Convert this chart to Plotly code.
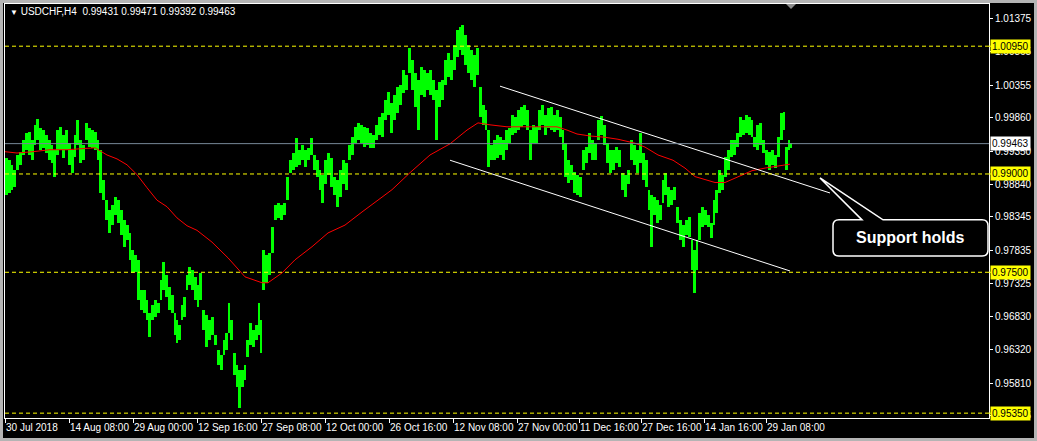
import numpy as np
import plotly.graph_objects as go

# ---------------- data ----------------
symbol_title = "USDCHF,H4"
last_ohlc = ["0.99431", "0.99471", "0.99392", "0.99463"]

bar_idx = [0,3,6,8,11,14,17,20,23,26,
           29,31,34,37,40,43,46,48,51,54,
           57,60,63,66,69,71,74,77,80,83,
           86,89,92,94,97,100,103,106,109,112,
           115,118,121,124,126,129,132,135,138,141,
           143,146,149,152,155,157,160,163,166,169,
           171,173,176,178,181,183,186,189,192,194,
           197,200,203,206,209,212,215,218,220,223,
           225,228,231,233,236,239,241,244,247,250,
           253,255,257,260,263,266,269,272,275,278,
           281,284,287,290,293,296,299,302,305,308,
           311,314,316,319,322,325,328,331,334,337,
           340,343,346,349,352,355,358,361,364,367,
           370,373,376,379,382,385,388,391,394,397,
           400,403,406,409,412,415,418,421,424,427,
           430,433,436,439,442,445,448,451,454,456,
           459,462,465,468,471,474,477,480,482,485,
           488,491,494,497,500,503,506,509,512,515,
           518,521,524,527,530,533,536,539,542,545,
           548,551,554,557,559,562,565,568,571,574,
           577,580,583,586,589,592,595,598,601,604,
           607,610,613,616,619,622,625,628,631,634,
           637,640,643,645,648,651,654,657,659,662,
           665,668,671,674,677,680,683,686,688,691,
           693,696,699,702,705,708,710,713,716,719,
           722,725,728,731,734,737,740,743,746,748,
           751,754,757,760,763,766,769,772,775,778,
           780,783,785]

bar_high = [0.9924,0.9921,0.9914,0.9906,0.9929,0.9934,0.9952,0.9963,0.9964,0.9952,
            0.9975,0.9984,0.9970,0.9967,0.9960,0.9952,0.9944,0.9937,0.9967,0.9972,
            0.9960,0.9967,0.9947,0.9937,0.9960,0.9982,0.9952,0.9944,0.9978,0.9970,
            0.9967,0.9964,0.9952,0.9937,0.9891,0.9860,0.9845,0.9853,0.9865,0.9860,
            0.9845,0.9830,0.9822,0.9810,0.9784,0.9776,0.9769,0.9723,0.9723,0.9708,
            0.9688,0.9700,0.9708,0.9703,0.9738,0.9766,0.9746,0.9728,0.9715,0.9688,
            0.9677,0.9670,0.9700,0.9712,0.9746,0.9758,0.9753,0.9743,0.9731,0.9749,
            0.9692,0.9685,0.9677,0.9682,0.9654,0.9631,0.9624,0.9647,0.9657,0.9703,
            0.9677,0.9627,0.9608,0.9601,0.9601,0.9608,0.9647,0.9673,0.9662,0.9670,
            0.9703,0.9677,0.9784,0.9776,0.9779,0.9819,0.9853,0.9856,0.9853,0.9856,
            0.9896,0.9921,0.9932,0.9955,0.9937,0.9944,0.9937,0.9940,0.9955,0.9929,
            0.9921,0.9906,0.9899,0.9921,0.9932,0.9924,0.9896,0.9891,0.9906,0.9921,
            0.9917,0.9944,0.9956,0.9972,0.9978,0.9975,0.9972,0.9970,0.9963,0.9960,
            0.9975,0.9987,0.9993,1.0013,1.0025,1.0008,1.0021,1.0033,1.0036,1.0059,
            1.0051,1.0092,1.0074,1.0054,1.0043,1.0063,1.0059,1.0054,1.0059,1.0043,
            1.0028,1.0040,1.0043,1.0074,1.0085,1.0074,1.0097,1.0120,1.0124,1.0127,
            1.0112,1.0097,1.0089,1.0082,1.0092,1.0033,1.0005,0.9998,0.9967,0.9944,
            0.9952,0.9960,0.9956,0.9952,0.9967,0.9970,0.9990,0.9987,0.9998,1.0002,
            1.0005,0.9998,0.9967,0.9975,0.9972,0.9998,1.0005,0.9990,1.0001,1.0002,
            0.9990,0.9998,0.9987,0.9967,0.9947,0.9921,0.9914,0.9903,0.9899,0.9896,
            0.9937,0.9941,0.9963,0.9952,0.9947,0.9982,0.9988,0.9975,0.9947,0.9937,
            0.9937,0.9941,0.9937,0.9902,0.9899,0.9906,0.9952,0.9944,0.9937,0.9963,
            0.9932,0.9921,0.9876,0.9868,0.9865,0.9860,0.9853,0.9891,0.9902,0.9880,
            0.9876,0.9880,0.9850,0.9830,0.9822,0.9830,0.9834,0.9799,0.9784,0.9799,
            0.9840,0.9850,0.9845,0.9837,0.9825,0.9860,0.9876,0.9906,0.9899,0.9926,
            0.9937,0.9952,0.9952,0.9963,0.9987,0.9982,0.9990,0.9987,0.9982,0.9956,
            0.9975,0.9978,0.9952,0.9937,0.9934,0.9937,0.9929,0.9956,0.9993,0.9995,
            0.9941,0.9952,0.99471]

bar_low = [0.9868,0.9871,0.9876,0.9880,0.9906,0.9914,0.9929,0.9937,0.9929,0.9921,
           0.9944,0.9952,0.9937,0.9940,0.9932,0.9921,0.9917,0.9896,0.9929,0.9937,
           0.9924,0.9937,0.9914,0.9902,0.9926,0.9944,0.9917,0.9921,0.9952,0.9941,
           0.9940,0.9937,0.9921,0.9871,0.9860,0.9830,0.9810,0.9822,0.9837,0.9825,
           0.9807,0.9789,0.9799,0.9769,0.9749,0.9750,0.9708,0.9692,0.9688,0.9677,
           0.9651,0.9677,0.9682,0.9688,0.9708,0.9723,0.9712,0.9692,0.9688,0.9654,
           0.9642,0.9647,0.9677,0.9682,0.9723,0.9731,0.9723,0.9708,0.9697,0.9708,
           0.9662,0.9636,0.9647,0.9654,0.9639,0.9608,0.9601,0.9624,0.9631,0.9657,
           0.9647,0.9593,0.9575,0.9543,0.9575,0.9586,0.9621,0.9639,0.9636,0.9647,
           0.9654,0.9627,0.9723,0.9734,0.9746,0.9779,0.9830,0.9833,0.9830,0.9837,
           0.9860,0.9902,0.9906,0.9911,0.9914,0.9921,0.9911,0.9921,0.9929,0.9906,
           0.9896,0.9876,0.9856,0.9884,0.9899,0.9880,0.9868,0.9850,0.9865,0.9884,
           0.9876,0.9921,0.9929,0.9947,0.9952,0.9947,0.9941,0.9944,0.9940,0.9940,
           0.9952,0.9960,0.9956,0.9982,0.9990,0.9963,0.9982,0.9993,1.0005,1.0024,
           1.0028,1.0054,1.0028,1.0002,0.9967,1.0021,1.0017,1.0028,1.0021,1.0013,
           0.9952,1.0002,1.0013,1.0036,1.0048,1.0043,1.0059,1.0078,1.0089,1.0082,
           1.0066,1.0054,1.0043,1.0033,1.0051,0.9987,0.9975,0.9967,0.9911,0.9921,
           0.9921,0.9924,0.9929,0.9921,0.9937,0.9947,0.9960,0.9963,0.9967,0.9972,
           0.9975,0.9967,0.9921,0.9947,0.9947,0.9967,0.9975,0.9960,0.9970,0.9967,
           0.9964,0.9967,0.9956,0.9937,0.9896,0.9887,0.9891,0.9871,0.9868,0.9865,
           0.9906,0.9917,0.9932,0.9921,0.9921,0.9952,0.9960,0.9944,0.9917,0.9902,
           0.9906,0.9917,0.9911,0.9876,0.9865,0.9884,0.9921,0.9914,0.9902,0.9917,
           0.9891,0.9880,0.9845,0.9789,0.9837,0.9825,0.9830,0.9856,0.9868,0.9850,
           0.9853,0.9860,0.9825,0.9799,0.9789,0.9807,0.9804,0.9753,0.9718,0.9753,
           0.9799,0.9819,0.9822,0.9819,0.9802,0.9822,0.9840,0.9871,0.9876,0.9896,
           0.9906,0.9926,0.9929,0.9941,0.9956,0.9960,0.9963,0.9960,0.9956,0.9941,
           0.9937,0.9944,0.9932,0.9914,0.9906,0.9914,0.9909,0.9926,0.9952,0.9967,
           0.9906,0.9937,0.99392]

ma_idx = [0,12,28,45,62,75,90,102,112,122,
          132,142,152,162,172,182,192,207,223,240,
          257,263,277,290,307,323,340,357,373,387,
          405,425,445,462,473,485,502,518,535,552,
          562,572,585,600,613,630,640,653,668,680,
          690,700,710,720,733,747,760,773,785]
ma_val = [0.9934,0.9932,0.9934,0.9937,0.9937,0.9938,0.9940,0.9929,0.9923,0.9914,
          0.9899,0.9879,0.9860,0.9850,0.9833,0.9821,0.9814,0.9796,0.9772,0.9743,
          0.9734,0.9734,0.9749,0.9769,0.9789,0.9810,0.9822,0.9842,0.9860,0.9876,
          0.9902,0.9929,0.9946,0.9967,0.9978,0.9975,0.9972,0.9972,0.9972,0.9972,
          0.9967,0.9961,0.9958,0.9956,0.9953,0.9947,0.9941,0.9929,0.9921,0.9909,
          0.9896,0.9891,0.9887,0.9887,0.9896,0.9905,0.9909,0.9912,0.9915]

channel_upper_idx = [495, 825]
channel_upper_val = [1.0034, 0.9871]
channel_lower_idx = [445, 785]
channel_lower_val = [0.9921, 0.9752]

level_vals = [1.00950, 0.99000, 0.97500, 0.95350]
level_text = ["1.00950", "0.99000", "0.97500", "0.95350"]
bid_val = 0.99463
bid_text = "0.99463"

ytick_vals = [1.01375, 1.00865, 1.00355, 0.99860, 0.99350, 0.98840, 0.98345,
              0.97835, 0.97325, 0.96830, 0.96320, 0.95810, 0.95315]
ytick_text = ["1.01375", "1.00865", "1.00355", "0.99860", "0.99350", "0.98840", "0.98345",
              "0.97835", "0.97325", "0.96830", "0.96320", "0.95810", "0.95315"]

xtick_idx = [0, 64, 128, 192, 256, 320, 384, 448, 512, 574, 636, 699, 761]
xtick_text = ["30 Jul 2018", "14 Aug 08:00", "29 Aug 00:00", "12 Sep 16:00", "27 Sep 08:00",
              "12 Oct 00:00", "26 Oct 16:00", "12 Nov 08:00", "27 Nov 00:00", "11 Dec 16:00",
              "27 Dec 16:00", "14 Jan 16:00", "29 Jan 08:00"]

callout_text = "Support holds"
callout_box_idx = [828, 983]
callout_box_val = [0.9830, 0.97748]
callout_tip = (815, 0.98939)
callout_base_idx = [857, 878]

x_range = [0, 984]
y_range = [0.95276, 1.01594]

# ---------------- figure ----------------
W, H = 1037, 441
ML, MR, MT, MB = 5, 48, 4, 23
FONT = "Liberation Sans, Arial, sans-serif"

n = min(len(bar_idx), len(bar_high), len(bar_low))
bx = np.array(bar_idx[:n], dtype=float)
bh = np.array(bar_high[:n])
bl = np.array(bar_low[:n])
bw = np.diff(bx, append=bx[-1] + 2)

fig = go.Figure()
fig.add_trace(go.Bar(x=bx + bw / 2 - 0.5, y=bh - bl, base=bl, width=bw,
                     marker=dict(color="#00FF00", line=dict(width=0)),
                     hoverinfo="skip"))
fig.add_trace(go.Scatter(x=ma_idx, y=ma_val, mode="lines",
                         line=dict(color="#FF0000", width=1), hoverinfo="skip"))
fig.add_trace(go.Scatter(x=channel_upper_idx, y=channel_upper_val, mode="lines",
                         line=dict(color="#FFFFFF", width=1), hoverinfo="skip"))
fig.add_trace(go.Scatter(x=channel_lower_idx, y=channel_lower_val, mode="lines",
                         line=dict(color="#FFFFFF", width=1), hoverinfo="skip"))

pw, ph = W - ML - MR, H - MT - MB
def px_to_paper(px, py):
    return (px - ML) / pw, (H - MB - py) / ph

shapes = []
annotations = []
# horizontal levels
for v in level_vals:
    shapes.append(dict(type="line", xref="paper", yref="y", x0=0, x1=1, y0=v, y1=v,
                       line=dict(color="#FFFF00", width=1, dash="4px,3px")))
    shapes.append(dict(type="line", xref="paper", yref="y", x0=1, x1=1 + 4 / pw,
                       y0=v, y1=v, line=dict(color="#FFFF00", width=1)))
shapes.append(dict(type="line", xref="paper", yref="y", x0=0, x1=1, y0=bid_val, y1=bid_val,
                   line=dict(color="#778899", width=1)))

# right-side price labels
for v, t in zip(level_vals, level_text):
    annotations.append(dict(xref="paper", yref="y", x=1, y=v, xanchor="left", yanchor="middle",
                            xshift=1, text=t, showarrow=False, bgcolor="#FFFF00", borderpad=1,
                            font=dict(family=FONT, size=10, color="#000000")))
annotations.append(dict(xref="paper", yref="y", x=1, y=bid_val, xanchor="left", yanchor="middle",
                        xshift=1, text=bid_text, showarrow=False, bgcolor="#FFFFFF", borderpad=1,
                        font=dict(family=FONT, size=10, color="#000000")))

# callout
x0, x1 = callout_box_idx
yt, yb = callout_box_val
rx = 6
ry = 6 * (y_range[1] - y_range[0]) / ph
tx, ty = callout_tip
b1, b2 = callout_base_idx
path = (f"M {x0+rx},{yt} L {b1},{yt} L {tx},{ty} L {b2},{yt} L {x1-rx},{yt} "
        f"Q {x1},{yt} {x1},{yt-ry} L {x1},{yb+ry} Q {x1},{yb} {x1-rx},{yb} "
        f"L {x0+rx},{yb} Q {x0},{yb} {x0},{yb+ry} L {x0},{yt-ry} Q {x0},{yt} {x0+rx},{yt} Z")
shapes.append(dict(type="path", xref="x", yref="y", path=path, fillcolor="#000000",
                   line=dict(color="#FFFFFF", width=1.5)))
annotations.append(dict(xref="x", yref="y", x=(x0 + x1) / 2, y=(yt + yb) / 2,
                        text="<b>" + callout_text + "</b>", showarrow=False,
                        font=dict(family=FONT, size=16, color="#FFFFFF")))

# title
tx_p, ty_p = px_to_paper(8, 12)
annotations.append(dict(xref="paper", yref="paper", x=tx_p, y=ty_p, xanchor="left", yanchor="middle",
                        showarrow=False,
                        text="<span style='font-size:8px'>\u25BC</span>\u00a0" + symbol_title
                             + "\u00a0\u00a0" + "\u00a0".join(last_ohlc),
                        font=dict(family=FONT, size=10, color="#FFFFFF")))

# chart shift marker (small grey triangle at the top)
a = px_to_paper(786, 4); b = px_to_paper(796, 4); c = px_to_paper(791, 9)
shapes.append(dict(type="path", xref="paper", yref="paper",
                   path=f"M {a[0]},{a[1]} L {b[0]},{b[1]} L {c[0]},{c[1]} Z",
                   fillcolor="#8C8C8C", line=dict(color="#8C8C8C", width=0)))

# outer window border
o0 = px_to_paper(1.5, 1.5); o1 = px_to_paper(1035.5, 439.5)
shapes.append(dict(type="rect", xref="paper", yref="paper", x0=o0[0], y0=o1[1], x1=o1[0], y1=o0[1],
                   line=dict(color="#B4B4B4", width=3), fillcolor="rgba(0,0,0,0)"))

fig.update_layout(
    width=W, height=H,
    margin=dict(l=ML, r=MR, t=MT, b=MB, pad=0, autoexpand=False),
    paper_bgcolor="#000000", plot_bgcolor="#000000",
    showlegend=False, bargap=0,
    shapes=shapes, annotations=annotations,
    font=dict(family=FONT, size=10, color="#FFFFFF"),
    xaxis=dict(range=x_range, tickmode="array", tickvals=xtick_idx, ticktext=xtick_text,
               ticks="outside", ticklen=4, tickcolor="#FFFFFF", tickwidth=1, tickangle=0,
               ticklabelposition="outside right", automargin=False,
               tickfont=dict(family=FONT, size=10, color="#FFFFFF"),
               showgrid=False, zeroline=False, showline=True, mirror=True,
               linecolor="#FFFFFF", linewidth=1, fixedrange=True),
    yaxis=dict(range=y_range, side="right", tickmode="array", tickvals=ytick_vals,
               ticktext=ytick_text, ticks="outside", ticklen=3, tickcolor="#FFFFFF",
               automargin=False,
               tickfont=dict(family=FONT, size=10, color="#FFFFFF"),
               showgrid=False, zeroline=False, showline=True, mirror=True,
               linecolor="#FFFFFF", linewidth=1, fixedrange=True),
)

post_js = ("document.body.style.margin='0';document.body.style.padding='0';"
           "document.body.style.background='#000';document.body.style.overflow='hidden';")
fig.write_html("out.html", config={"displayModeBar": False}, post_script=post_js)
